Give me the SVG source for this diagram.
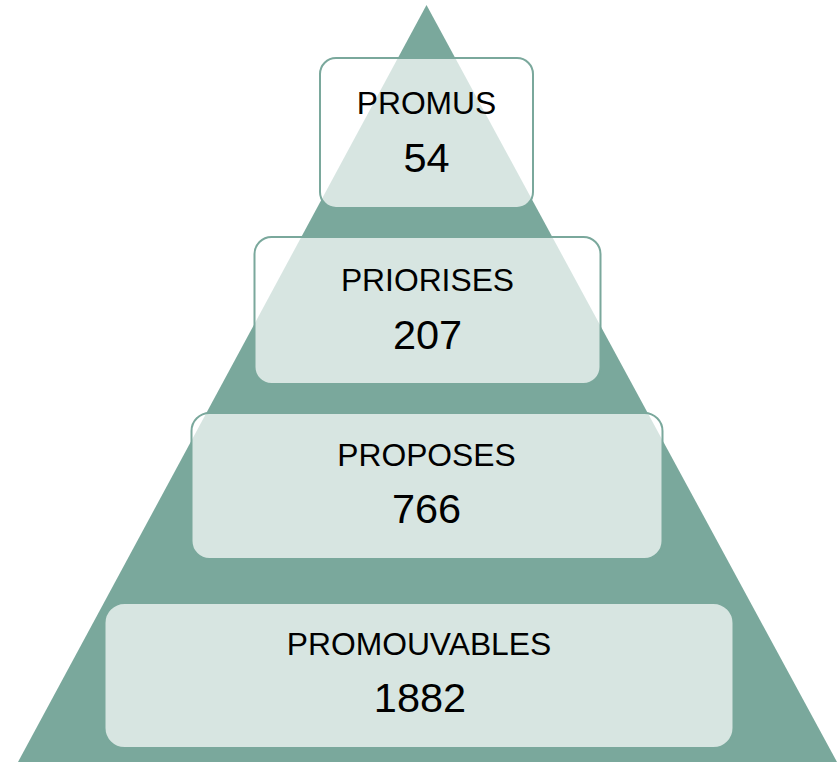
<svg xmlns="http://www.w3.org/2000/svg" width="840" height="765" viewBox="0 0 840 765">
<style>
.box{fill:#ffffff;fill-opacity:0.7;stroke:#7aa89c;stroke-width:2}
.lbl{font-family:"Liberation Sans",Arial,sans-serif;font-size:31.8px;fill:#000;text-anchor:middle}
.num{font-family:"Liberation Sans",Arial,sans-serif;font-size:41.5px;fill:#000;text-anchor:middle}
</style>
<rect width="840" height="765" fill="#ffffff"/>
<g id="pyramid">
<polygon points="426.5,5 837,762 18,762" fill="#7aa89c"/>
</g>
<g id="connectors"></g>
<g id="promus">
<rect class="box" x="320" y="58" width="213" height="150" rx="16"/>
<text class="lbl" x="426.5" y="114">PROMUS</text>
<text class="num" x="426.5" y="172">54</text>
</g>
<g id="priorises">
<rect class="box" x="254.5" y="237" width="346" height="147" rx="17"/>
<text class="lbl" x="427.5" y="291">PRIORISES</text>
<text class="num" x="427.5" y="349">207</text>
</g>
<g id="proposes">
<rect class="box" x="191.5" y="413" width="471" height="146" rx="18"/>
<text class="lbl" x="426.5" y="466">PROPOSES</text>
<text class="num" x="426.5" y="523">766</text>
</g>
<g id="promouvables">
<rect class="box" x="104.5" y="603" width="629" height="145" rx="20"/>
<text class="lbl" x="419" y="655">PROMOUVABLES</text>
<text class="num" x="420" y="712">1882</text>
</g>
</svg>
